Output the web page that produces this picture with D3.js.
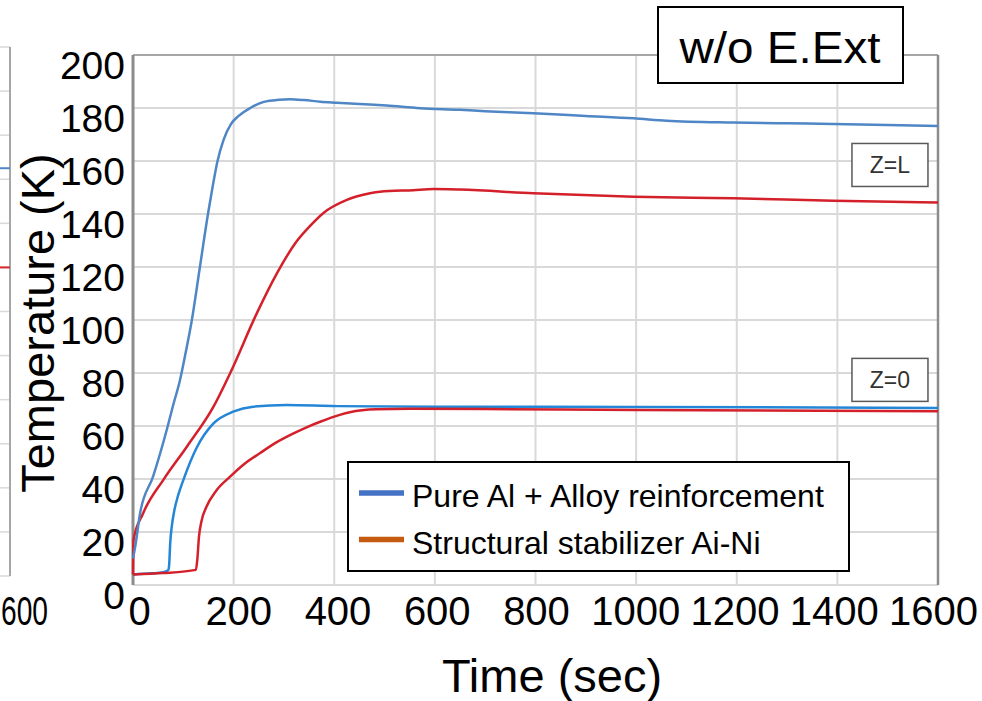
<!DOCTYPE html>
<html>
<head>
<meta charset="utf-8">
<script src="https://cdn.jsdelivr.net/npm/d3@7/dist/d3.min.js"></script>
<style>
  html, body { margin: 0; padding: 0; background: #ffffff; }
  svg { display: block; font-family: "Liberation Sans", Arial, sans-serif; }
</style>
</head>
<body>
<svg id="chart" width="982" height="701"></svg>
<script>
// ---------------- data ----------------
const xTicks = [0, 200, 400, 600, 800, 1000, 1200, 1400, 1600];
const yTicks = [0, 20, 40, 60, 80, 100, 120, 140, 160, 180, 200];
const seriesNames = ["Pure Al + Alloy reinforcement", "Structural stabilizer Ai-Ni"];
const zLabels = ["Z=L", "Z=0"];
const zLabelValues = [158.5, 77.4];   // temperature level where each tag sits
const titleText = "w/o E.Ext";

// Pure Al + Alloy reinforcement, Z=L
const blueL_t = [0, 4, 14, 40, 67, 80, 93, 105, 117, 133, 149, 158, 168, 180, 195, 210, 233, 260, 290, 312, 340, 372, 405, 450, 504, 571, 650, 700, 796, 900, 995, 1061, 1193, 1300, 1392, 1500, 1600];
const blueL_T = [10, 14, 27, 41, 58.5, 68, 77, 88, 100, 120, 140, 150, 160, 168, 174, 177, 180, 182.3, 183.1, 183.3, 183, 182.4, 182, 181.5, 180.9, 179.9, 179.3, 178.8, 178, 177, 176.1, 175.2, 174.5, 174.2, 174, 173.6, 173.2];
// Structural stabilizer, Z=L
const redL_t = [0, 1, 20, 60, 107, 160, 193, 246, 286, 325, 352, 378, 425, 471, 491, 557, 597, 650, 796, 995, 1193, 1392, 1565, 1600];
const redL_T = [4, 17, 27, 39.6, 52.2, 67.3, 79.9, 102.5, 117.6, 129.6, 135.5, 140.3, 145.3, 147.8, 148.4, 149, 149.4, 149.2, 147.8, 146.5, 145.9, 145, 144.4, 144.3];
// Pure Al + Alloy reinforcement, Z=0
const blue0_t = [0, 37, 60, 70, 72, 74, 77, 82, 90, 100, 127, 160, 199, 239, 305, 405, 600, 1000, 1600];
const blue0_T = [4, 4.4, 4.8, 5.6, 8, 16, 22, 28, 34, 39.6, 52, 61, 65.4, 67.3, 67.9, 67.5, 67.3, 67.2, 66.8];
// Structural stabilizer, Z=0
const red0_t = [0, 60, 125, 128, 131, 136, 146, 165, 193, 220, 252, 285, 319, 345, 372, 411, 431, 484, 550, 700, 1000, 1366, 1600];
const red0_T = [4, 4.5, 5.7, 10, 18, 24, 29.5, 35.5, 40.9, 45.5, 49.7, 53.8, 57.2, 59.5, 61.6, 64.2, 65.2, 66.3, 66.5, 66.4, 66, 65.8, 65.6];

// neighbouring (cropped) panel at the left edge
const prevTicks = [0, 20, 40, 60, 80, 100, 120, 140, 160, 180, 200, 220, 240];
const prevBlue = 185;
const prevRed = 140;
const prevLastTick = "600";

// ---------------- drawing ----------------
const svg = d3.select("#chart");
const x = d3.scaleLinear().domain([0, 1600]).range([133, 938]);
const y = d3.scaleLinear().domain([0, 200]).range([585, 55]);
const xLabelScale = d3.scaleLinear().domain([0, 1600]).range([139, 933]);

// cropped previous panel
const py = d3.scaleLinear().domain([0, 240]).range([576, 47]);
const prev = svg.append("g");
prev.selectAll("line.pg").data(prevTicks).join("line")
  .attr("x1", 0).attr("x2", 10).attr("y1", d => py(d)).attr("y2", d => py(d))
  .attr("stroke", "#d9d9d9").attr("stroke-width", 1.5);
prev.append("line").attr("x1", 10).attr("x2", 10).attr("y1", py(240)).attr("y2", py(0))
  .attr("stroke", "#a6a6a6").attr("stroke-width", 2);
prev.append("line").attr("x1", 0).attr("x2", 10).attr("y1", py(prevBlue)).attr("y2", py(prevBlue))
  .attr("stroke", "#4f86c6").attr("stroke-width", 2);
prev.append("line").attr("x1", 0).attr("x2", 10).attr("y1", py(prevRed)).attr("y2", py(prevRed))
  .attr("stroke", "#d42a2a").attr("stroke-width", 2);
prev.append("text").attr("x", 1).attr("y", 625)
  .attr("font-size", 40).attr("textLength", 47).attr("lengthAdjust", "spacingAndGlyphs")
  .attr("fill", "#000").text(prevLastTick);

// grid
const grid = svg.append("g");
grid.selectAll("line.h").data(yTicks).join("line")
  .attr("x1", x(0)).attr("x2", x(1600)).attr("y1", d => y(d)).attr("y2", d => y(d))
  .attr("stroke", "#d9d9d9").attr("stroke-width", 2);
grid.selectAll("line.v").data(xTicks).join("line")
  .attr("x1", d => x(d)).attr("x2", d => x(d)).attr("y1", y(0)).attr("y2", y(200))
  .attr("stroke", "#d9d9d9").attr("stroke-width", 2);

// frame
svg.append("line").attr("x1", x(0)).attr("x2", x(1600)).attr("y1", y(200)).attr("y2", y(200))
  .attr("stroke", "#a6a6a6").attr("stroke-width", 2);
svg.append("line").attr("x1", x(1600)).attr("x2", x(1600)).attr("y1", y(200)).attr("y2", y(0))
  .attr("stroke", "#8c8c8c").attr("stroke-width", 2.5);
svg.append("line").attr("x1", x(0)).attr("x2", x(0)).attr("y1", y(200)).attr("y2", y(0))
  .attr("stroke", "#8c8c8c").attr("stroke-width", 3);

// curves
const line = d3.line().x(d => x(d[0])).y(d => y(d[1])).curve(d3.curveMonotoneX);
const series = [
  { t: blue0_t, v: blue0_T, color: "#2386d6" },
  { t: red0_t, v: red0_T, color: "#d4202a" },
  { t: redL_t, v: redL_T, color: "#d4202a" },
  { t: blueL_t, v: blueL_T, color: "#4f86c6" }
];
svg.append("g").selectAll("path").data(series).join("path")
  .attr("d", s => line(s.t.map((t, i) => [t, s.v[i]])))
  .attr("fill", "none").attr("stroke", s => s.color).attr("stroke-width", 2.5)
  .attr("stroke-linejoin", "round");

// Z tags
const tags = svg.append("g").selectAll("g").data(zLabels).join("g")
  .attr("transform", (d, i) => `translate(${x(1429)},${y(zLabelValues[i])})`);
tags.append("rect").attr("x", 0).attr("y", -21.5).attr("width", 76).attr("height", 43)
  .attr("fill", "#fff").attr("stroke", "#595959").attr("stroke-width", 1.5);
tags.append("text").attr("x", 38).attr("y", 8.5).attr("text-anchor", "middle")
  .attr("font-family", "'Liberation Sans Narrow', 'Liberation Sans', Arial, sans-serif")
  .attr("font-size", 23).attr("fill", "#333").text(d => d);

// y axis labels
const yAxis = svg.append("g").attr("transform", `translate(${x(0)},0)`)
  .call(d3.axisLeft(y).tickValues(yTicks).tickSize(0).tickPadding(8));
yAxis.select(".domain").remove();
yAxis.selectAll("text").attr("font-size", 39).attr("font-family", "'Liberation Sans', Arial, sans-serif")
  .attr("fill", "#000").attr("dy", "0.59em");

// x axis labels
const xAxis = svg.append("g").attr("transform", "translate(0,625)")
  .call(d3.axisBottom(xLabelScale).tickValues(xTicks).tickSize(0).tickFormat(d3.format("d")));
xAxis.select(".domain").remove();
xAxis.selectAll("text").attr("y", 0).attr("dy", 0).attr("font-size", 40)
  .attr("font-family", "'Liberation Sans', Arial, sans-serif").attr("fill", "#000");

// axis titles
svg.append("text").attr("x", 552).attr("y", 692).attr("text-anchor", "middle")
  .attr("font-size", 47).attr("fill", "#000").text("Time (sec)");
svg.append("text").attr("transform", "translate(54,323) rotate(-90)").attr("text-anchor", "middle")
  .attr("font-size", 47).attr("fill", "#000").text("Temperature (K)");

// legend
const lg = svg.append("g");
lg.append("rect").attr("x", 348).attr("y", 462).attr("width", 501).attr("height", 109)
  .attr("fill", "#fff").attr("stroke", "#000").attr("stroke-width", 2);
const legendColors = ["#4472c4", "#c55a11"];
const items = lg.selectAll("g.item").data(seriesNames).join("g")
  .attr("transform", (d, i) => `translate(359,${493 + i * 46.5})`);
items.append("line").attr("x1", 0).attr("x2", 45).attr("y1", 0).attr("y2", 0)
  .attr("stroke", (d, i) => legendColors[i]).attr("stroke-width", 5.5);
items.append("text").attr("x", 53).attr("y", 14).attr("font-size", 32).attr("fill", "#000").text(d => d);

// title box
const tb = svg.append("g");
tb.append("rect").attr("x", 658).attr("y", 7).attr("width", 245).attr("height", 76)
  .attr("fill", "#fff").attr("stroke", "#000").attr("stroke-width", 2);
tb.append("text").attr("x", 780).attr("y", 63).attr("text-anchor", "middle")
  .attr("font-size", 44).attr("textLength", 201).attr("lengthAdjust", "spacingAndGlyphs")
  .attr("fill", "#000").text(titleText);
</script>
</body>
</html>
